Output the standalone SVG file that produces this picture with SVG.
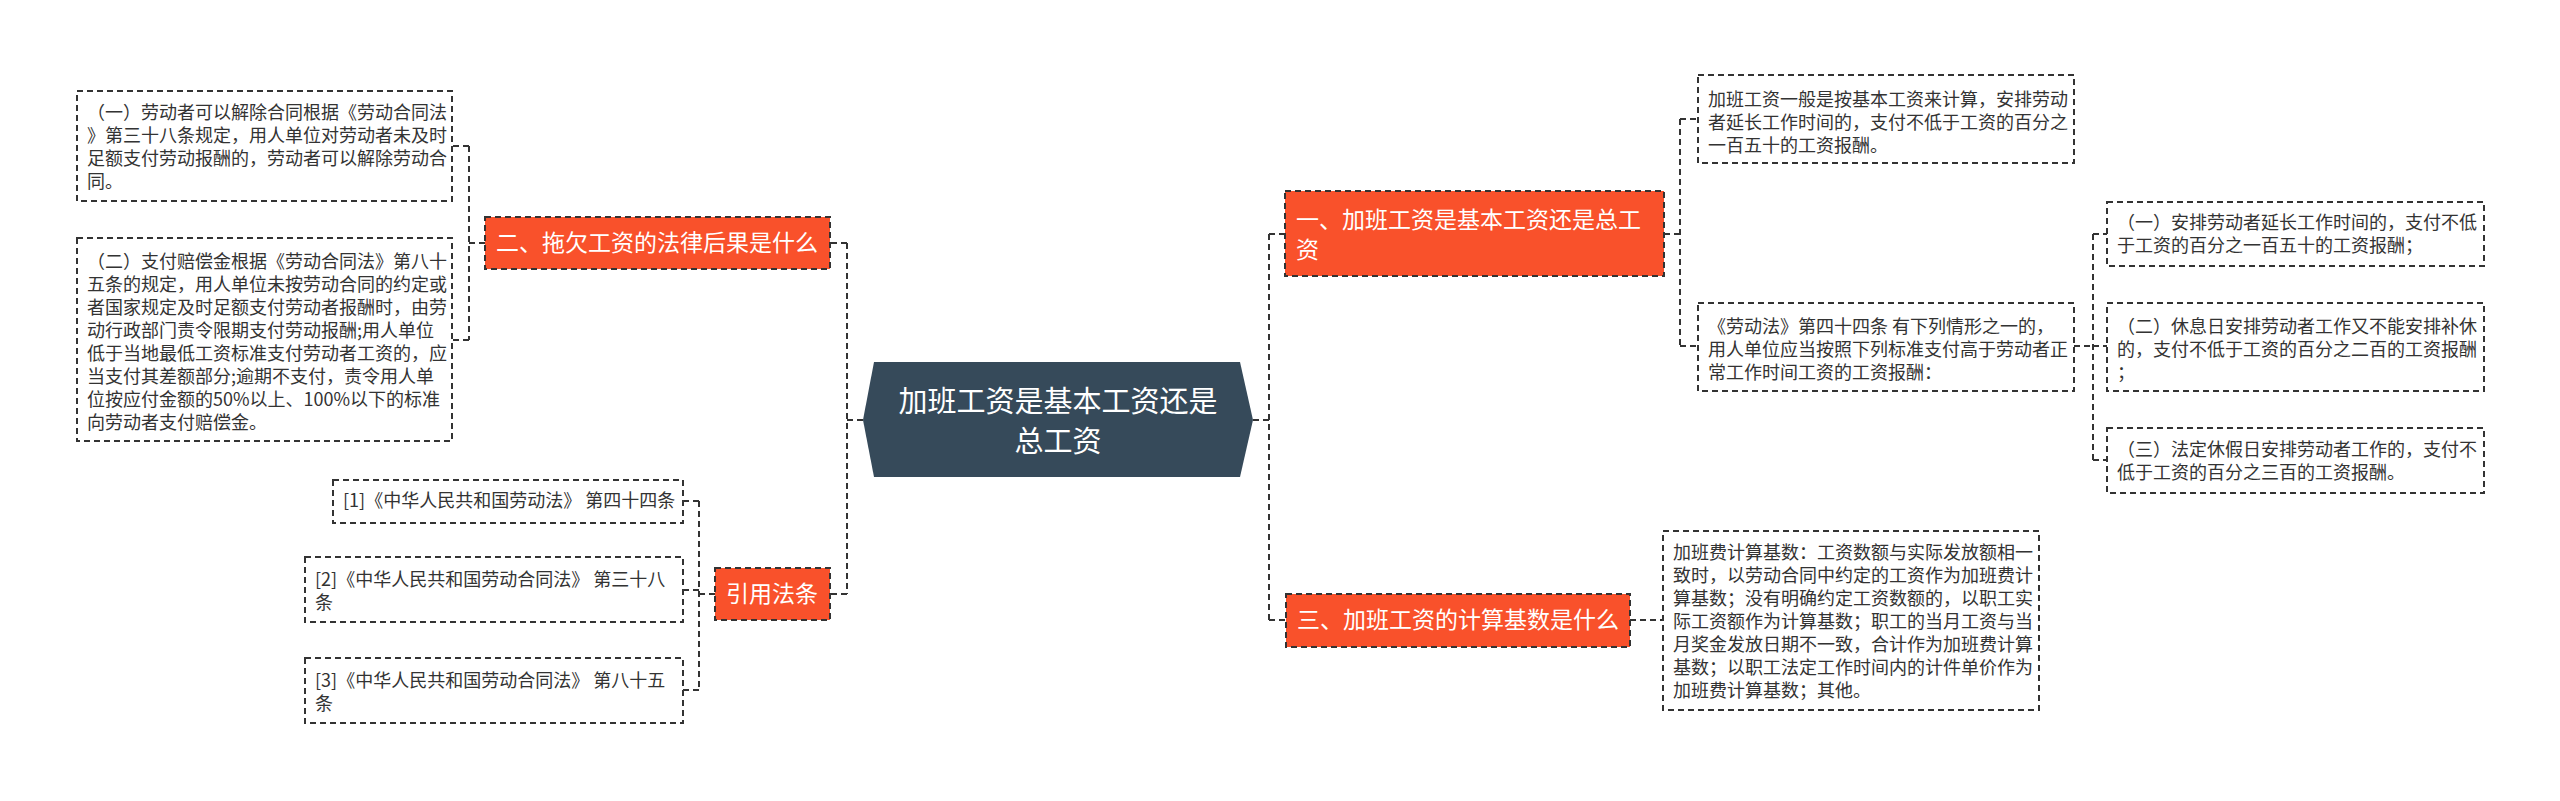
<svg xmlns="http://www.w3.org/2000/svg" width="2560" height="801" viewBox="0 0 2560 801">
<style>
text{font-family:"Noto Sans CJK SC","Liberation Sans",sans-serif}
.leaf{fill:#fff;stroke:#333;stroke-width:2;stroke-dasharray:6,4}
.lt{font-size:18px;fill:#333}
.br{fill:#f9512b;stroke:#333;stroke-width:2;stroke-dasharray:6,4}
.bt{font-size:23px;fill:#fff}
.con{fill:none;stroke:#333;stroke-width:2;stroke-dasharray:6,4}
</style>
<rect width="2560" height="801" fill="#fff"/>
<g id="connectors">
<path class="con" d="M863,420H847M847,243V594M847,243H830M847,594H830"/>
<path class="con" d="M485,243H469M469,146V340M469,146H452M469,340H452"/>
<path class="con" d="M715,594H699M699,501V690M699,501H683M699,590H683M699,690H683"/>
<path class="con" d="M1253,420H1269M1269,234V620M1269,234H1285M1269,620H1286"/>
<path class="con" d="M1664,234H1680M1680,119V346M1680,119H1698M1680,346H1698"/>
<path class="con" d="M2074,346H2093M2093,234V460M2093,234H2107M2093,346H2107M2093,460H2107"/>
<path class="con" d="M1630,620H1663"/>
</g>
<g id="center">
<polygon points="874,362 1240,362 1253,420 1240,477 874,477 863,420" fill="#364a5a"/>
<text x="1058" y="412" font-size="29" fill="#fff" text-anchor="middle">加班工资是基本工资还是</text>
<text x="1058" y="452" font-size="29" fill="#fff" text-anchor="middle">总工资</text>
</g>
<g id="b2">
<rect class="br" x="485" y="217" width="345" height="52"/>
<text class="bt" x="657" y="251" text-anchor="middle">二、拖欠工资的法律后果是什么</text>
</g>
<g id="b2-1">
<rect class="leaf" x="77" y="91" width="375" height="110"/>
<text class="lt"><tspan x="87" y="119">（一）劳动者可以解除合同根据《劳动合同法</tspan><tspan x="87" y="142">》第三十八条规定，用人单位对劳动者未及时</tspan><tspan x="87" y="165">足额支付劳动报酬的，劳动者可以解除劳动合</tspan><tspan x="87" y="188">同。</tspan></text>
</g>
<g id="b2-2">
<rect class="leaf" x="77" y="238" width="375" height="203"/>
<text class="lt"><tspan x="87" y="268">（二）支付赔偿金根据《劳动合同法》第八十</tspan><tspan x="87" y="291">五条的规定，用人单位未按劳动合同的约定或</tspan><tspan x="87" y="314">者国家规定及时足额支付劳动者报酬时，由劳</tspan><tspan x="87" y="337">动行政部门责令限期支付劳动报酬;用人单位</tspan><tspan x="87" y="360">低于当地最低工资标准支付劳动者工资的，应</tspan><tspan x="87" y="383">当支付其差额部分;逾期不支付，责令用人单</tspan><tspan x="87" y="406">位按应付金额的50%以上、100%以下的标准</tspan><tspan x="87" y="429">向劳动者支付赔偿金。</tspan></text>
</g>
<g id="refs">
<rect class="br" x="715" y="568" width="115" height="52"/>
<text class="bt" x="772" y="602" text-anchor="middle">引用法条</text>
</g>
<g id="ref1">
<rect class="leaf" x="333" y="480" width="350" height="43"/>
<text class="lt" x="343" y="507">[1]《中华人民共和国劳动法》 第四十四条</text>
</g>
<g id="ref2">
<rect class="leaf" x="305" y="557" width="378" height="65"/>
<text class="lt"><tspan x="315" y="586">[2]《中华人民共和国劳动合同法》 第三十八</tspan><tspan x="315" y="609">条</tspan></text>
</g>
<g id="ref3">
<rect class="leaf" x="305" y="658" width="378" height="65"/>
<text class="lt"><tspan x="315" y="687">[3]《中华人民共和国劳动合同法》 第八十五</tspan><tspan x="315" y="710">条</tspan></text>
</g>
<g id="b1">
<rect class="br" x="1285" y="191" width="379" height="85"/>
<text class="bt"><tspan x="1296" y="228">一、加班工资是基本工资还是总工</tspan><tspan x="1296" y="258">资</tspan></text>
</g>
<g id="b1-a">
<rect class="leaf" x="1698" y="75" width="376" height="88"/>
<text class="lt"><tspan x="1708" y="106">加班工资一般是按基本工资来计算，安排劳动</tspan><tspan x="1708" y="129">者延长工作时间的，支付不低于工资的百分之</tspan><tspan x="1708" y="152">一百五十的工资报酬。</tspan></text>
</g>
<g id="b1-b">
<rect class="leaf" x="1698" y="303" width="376" height="88"/>
<text class="lt"><tspan x="1708" y="333">《劳动法》第四十四条 有下列情形之一的，</tspan><tspan x="1708" y="356">用人单位应当按照下列标准支付高于劳动者正</tspan><tspan x="1708" y="379">常工作时间工资的工资报酬：</tspan></text>
</g>
<g id="c1">
<rect class="leaf" x="2107" y="202" width="377" height="64"/>
<text class="lt"><tspan x="2117" y="229">（一）安排劳动者延长工作时间的，支付不低</tspan><tspan x="2117" y="252">于工资的百分之一百五十的工资报酬；</tspan></text>
</g>
<g id="c2">
<rect class="leaf" x="2107" y="303" width="377" height="88"/>
<text class="lt"><tspan x="2117" y="333">（二）休息日安排劳动者工作又不能安排补休</tspan><tspan x="2117" y="356">的，支付不低于工资的百分之二百的工资报酬</tspan><tspan x="2117" y="379">；</tspan></text>
</g>
<g id="c3">
<rect class="leaf" x="2107" y="428" width="377" height="65"/>
<text class="lt"><tspan x="2117" y="456">（三）法定休假日安排劳动者工作的，支付不</tspan><tspan x="2117" y="479">低于工资的百分之三百的工资报酬。</tspan></text>
</g>
<g id="b3">
<rect class="br" x="1286" y="594" width="344" height="53"/>
<text class="bt" x="1458" y="628" text-anchor="middle">三、加班工资的计算基数是什么</text>
</g>
<g id="b3-a">
<rect class="leaf" x="1663" y="531" width="376" height="179"/>
<text class="lt"><tspan x="1673" y="559">加班费计算基数：工资数额与实际发放额相一</tspan><tspan x="1673" y="582">致时，以劳动合同中约定的工资作为加班费计</tspan><tspan x="1673" y="605">算基数；没有明确约定工资数额的，以职工实</tspan><tspan x="1673" y="628">际工资额作为计算基数；职工的当月工资与当</tspan><tspan x="1673" y="651">月奖金发放日期不一致，合计作为加班费计算</tspan><tspan x="1673" y="674">基数；以职工法定工作时间内的计件单价作为</tspan><tspan x="1673" y="697">加班费计算基数；其他。</tspan></text>
</g>
</svg>
